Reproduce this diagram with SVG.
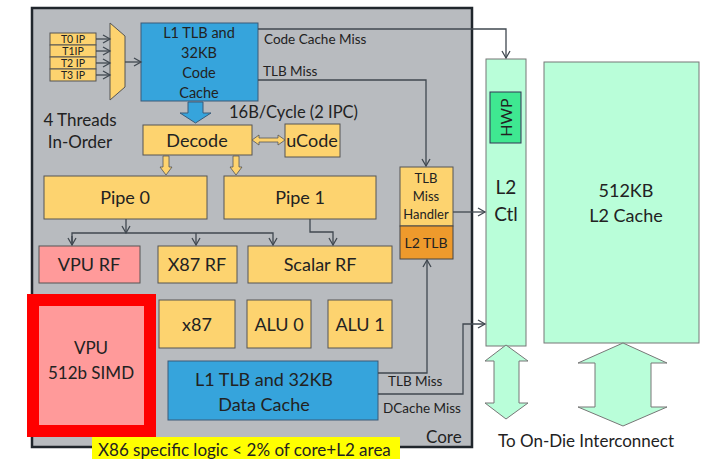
<svg xmlns="http://www.w3.org/2000/svg" width="707" height="459" viewBox="0 0 707 459">
<style>
text{font-family:Lato,"Open Sans","Liberation Sans",sans-serif;fill:#222;}
.y{fill:#fdd36f;stroke:#555;stroke-width:1}
.b{fill:#36a4dc;stroke:#3a5a78;stroke-width:1}
.p{fill:#ff9a9a;stroke:#555;stroke-width:1}
.m{fill:#b9fed9;stroke:#777;stroke-width:1}
.ln{fill:none;stroke:#404850;stroke-width:1.3}
.c{text-anchor:middle}
.s{font-size:13.5px}
</style>
<defs>
<marker id="ah" markerWidth="10" markerHeight="10" refX="8" refY="5" orient="auto" markerUnits="userSpaceOnUse">
<path d="M1,1 L8,5 L1,9" fill="none" stroke="#404850" stroke-width="1.3"/>
</marker>
</defs>
<rect width="707" height="459" fill="#fff"/>
<g id="core">
<rect x="32" y="8" width="440" height="439" fill="#b8bbbf" stroke="#20262c" stroke-width="2.5"/>
<text x="426" y="443" font-size="17">Core</text>
</g>
<g id="ip">
<rect class="y" x="50" y="33" width="46" height="12"/>
<rect class="y" x="50" y="45" width="46" height="12"/>
<rect class="y" x="50" y="57" width="46" height="12"/>
<rect class="y" x="50" y="69" width="46" height="12"/>
<text class="c" x="73" y="43" font-size="10.5">T0 IP</text>
<text class="c" x="73" y="55" font-size="10.5">T1IP</text>
<text class="c" x="73" y="67" font-size="10.5">T2 IP</text>
<text class="c" x="73" y="79" font-size="10.5">T3 IP</text>
</g>
<g id="mux"><path class="y" d="M110,23 L125,36 L125,87 L110,100 Z"/></g>
<g id="threads"><text class="c" x="80" y="126" font-size="17">4 Threads</text><text class="c" x="80" y="148" font-size="17">In-Order</text></g>
<g id="icache">
<rect class="b" x="141" y="23" width="117" height="78"/>
<text class="c" x="199" y="38" font-size="14.5">L1 TLB and</text>
<text class="c" x="199" y="58" font-size="14.5">32KB</text>
<text class="c" x="199" y="78" font-size="14.5">Code</text>
<text class="c" x="199" y="98" font-size="14.5">Cache</text>
</g>
<g id="decode"><rect class="y" x="143" y="125" width="109" height="30"/><text class="c" x="197" y="147" font-size="18">Decode</text></g>
<g id="ucode"><rect class="y" x="285" y="124" width="55" height="33"/><text class="c" x="312" y="147" font-size="18">uCode</text></g>
<text x="229" y="118" font-size="16.5">16B/Cycle (2 IPC)</text>
<g id="pipe0"><rect class="y" x="44" y="176" width="163" height="43"/><text class="c" x="125" y="204" font-size="18">Pipe 0</text></g>
<g id="pipe1"><rect class="y" x="224" y="176" width="152" height="43"/><text class="c" x="300" y="204" font-size="18">Pipe 1</text></g>
<g id="vpurf"><rect class="p" x="39" y="246" width="101" height="37"/><text class="c" x="89" y="271" font-size="18">VPU RF</text></g>
<g id="x87rf"><rect class="y" x="158" y="246" width="79" height="37"/><text class="c" x="197" y="271" font-size="18">X87 RF</text></g>
<g id="scalarrf"><rect class="y" x="248" y="246" width="144" height="37"/><text class="c" x="320" y="271" font-size="18">Scalar RF</text></g>
<g id="vpu">
<rect x="33" y="300" width="117" height="131" fill="#ff9a9a" stroke="#ff0000" stroke-width="12"/>
<text class="c" x="91" y="354" font-size="17">VPU</text>
<text class="c" x="91" y="379" font-size="17">512b SIMD</text>
</g>
<g id="x87"><rect class="y" x="159" y="300" width="76" height="48"/><text class="c" x="197" y="331" font-size="18">x87</text></g>
<g id="alu0"><rect class="y" x="247" y="300" width="64" height="48"/><text class="c" x="279" y="331" font-size="18">ALU 0</text></g>
<g id="alu1"><rect class="y" x="328" y="300" width="64" height="48"/><text class="c" x="360" y="331" font-size="18">ALU 1</text></g>
<g id="dcache">
<rect class="b" x="168" y="361" width="210" height="59"/>
<text class="c" x="264" y="386" font-size="18">L1 TLB and 32KB</text>
<text class="c" x="264" y="411" font-size="18">Data Cache</text>
</g>
<g id="tlbmh">
<rect class="y" x="400" y="167" width="53" height="59"/>
<text class="c" x="426" y="183" font-size="13">TLB</text>
<text class="c" x="426" y="201" font-size="13">Miss</text>
<text class="c" x="426" y="219" font-size="13">Handler</text>
</g>
<g id="l2tlb"><rect x="400" y="226" width="53" height="33" fill="#ee9a2c" stroke="#444" stroke-width="1"/><text class="c" x="426" y="248" font-size="14">L2 TLB</text></g>
<g id="l2ctl">
<rect class="m" x="486" y="59" width="40" height="287"/>
<text class="c" x="506" y="194" font-size="19">L2</text>
<text class="c" x="506" y="221" font-size="19">Ctl</text>
</g>
<g id="hwp">
<rect x="490" y="92" width="31" height="51" fill="#3fe891" stroke="#335" stroke-width="1"/>
<text class="c" transform="translate(511.5,117.5) rotate(-90)" font-size="16">HWP</text>
</g>
<g id="l2cache">
<rect class="m" x="544" y="62" width="155" height="281"/>
<text class="c" x="626" y="197" font-size="18">512KB</text>
<text class="c" x="626" y="222" font-size="18">L2 Cache</text>
</g>
<g id="interconnect">
<path class="m" d="M506,345 L528,361 L519,361 L519,403 L528,403 L506,419 L485,403 L494,403 L494,361 L485,361 Z"/>
<path class="m" d="M623,343 L667,363 L651,363 L651,407 L667,407 L623,426 L578,407 L595,407 L595,363 L578,363 Z"/>
<text x="498" y="447" font-size="17">To On-Die Interconnect</text>
</g>
<g id="note">
<rect x="92" y="437" width="308" height="22" fill="#ffff00"/>
<text x="98" y="456" font-size="17">X86 specific logic &lt; 2% of core+L2 area</text>
</g>
<g id="connectors">
<line class="ln" x1="96" y1="39" x2="110" y2="39" marker-end="url(#ah)"/>
<line class="ln" x1="96" y1="51" x2="110" y2="51" marker-end="url(#ah)"/>
<line class="ln" x1="96" y1="63" x2="110" y2="63" marker-end="url(#ah)"/>
<line class="ln" x1="96" y1="75" x2="110" y2="75" marker-end="url(#ah)"/>
<line class="ln" x1="125" y1="62" x2="141" y2="62" marker-end="url(#ah)"/>
<path d="M188,102 L203,102 L203,113 L211,113 L195.5,123 L180,113 L188,113 Z" fill="#36a4dc" stroke="#3a5a78" stroke-width="1"/>
<path d="M252,140 L259,135 L259,138 L278,138 L278,135 L285,140 L278,145 L278,142 L259,142 L259,145 Z" fill="#fdd36f" stroke="#555" stroke-width="0.8"/>
<path d="M163,156 L169,156 L169,167 L172,167 L166,175 L160,167 L163,167 Z" fill="#fdd36f" stroke="#555" stroke-width="0.8"/>
<path d="M233,156 L239,156 L239,167 L242,167 L236,175 L230,167 L233,167 Z" fill="#fdd36f" stroke="#555" stroke-width="0.8"/>
<line class="ln" x1="126" y1="219" x2="126" y2="233" marker-end="url(#ah)"/>
<polyline class="ln" points="72,245 72,233 273,233 273,245" marker-end="url(#ah)"/>
<line class="ln" x1="72" y1="236" x2="72" y2="245" marker-end="url(#ah)"/>
<line class="ln" x1="196" y1="233" x2="196" y2="245" marker-end="url(#ah)"/>
<polyline class="ln" points="310,219 310,232 333,232 333,245" marker-end="url(#ah)"/>
<polyline class="ln" points="258,29 506,29 506,58" marker-end="url(#ah)"/>
<text class="s" x="264" y="44">Code Cache Miss</text>
<polyline class="ln" points="258,80 426,80 426,166" marker-end="url(#ah)"/>
<text class="s" x="263" y="76">TLB Miss</text>
<line class="ln" x1="453" y1="212" x2="485" y2="212" marker-end="url(#ah)"/>
<polyline class="ln" points="378,373 427,373 427,260" marker-end="url(#ah)"/>
<text class="s" x="388" y="386">TLB Miss</text>
<polyline class="ln" points="378,394 463,394 463,324 485,324" marker-end="url(#ah)"/>
<text class="s" x="383" y="413">DCache Miss</text>
</g>
</svg>
